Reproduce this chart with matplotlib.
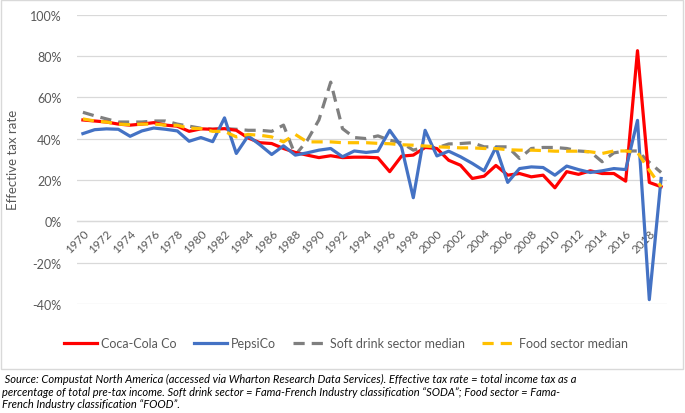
import numpy as np
import matplotlib
matplotlib.use("Agg")
import matplotlib.pyplot as plt
from matplotlib.patches import Rectangle
from matplotlib.ticker import FuncFormatter

plt.rcParams['font.family'] = ['Lato', 'DejaVu Sans']

years = list(range(1970, 2020))

coca_cola = [49, 48.5, 48, 47, 46.5, 47, 47.7, 46.5, 46, 43.5,
             44.7, 44.5, 44.8, 44, 40.3, 38, 37.6, 35.2, 33.3, 32,
             30.8, 31.7, 30.8, 31, 31, 30.7, 24, 31.5, 32, 35.7,
             35.2, 29.5, 27.1, 20.7, 21.8, 27, 22.3, 23.1, 21.5, 22.3,
             16.2, 24, 22.7, 24.4, 23.1, 23.1, 19.4, 82.5, 18.8, 16.7]

pepsico = [42.4, 44.3, 44.7, 44.5, 41.1, 43.7, 45.1, 44.5, 43.7, 38.7,
           40.5, 38.5, 50, 32.8, 41.3, 37, 32.3, 36.5, 32, 33.1,
           34.4, 35.2, 31.2, 34, 33.3, 33.9, 44, 36, 11.4, 44,
           31.6, 33.9, 31.2, 28, 24.4, 35.8, 18.8, 25.5, 26.3, 26,
           22.3, 26.7, 25, 23.6, 24.4, 25.5, 25, 48.8, -37.9, 20.7]

soft_drink_median = [52.7, 51, 49.5, 48, 48, 48, 48.5, 48.5, 47, 46,
                     45, 44.5, 44.8, 44.5, 44, 44, 43.5, 46.5, 32, 39,
                     49, 67.3, 44.8, 40.5, 40, 41.3, 39.2, 38, 34.4, 36,
                     35.5, 37.4, 37.6, 38, 36, 36, 36, 30.4, 35.2, 35.7,
                     35.7, 35.2, 34, 33.6, 28.8, 33.1, 34, 34, 28.5, 23.6]

food_median = [49.5, 48.5, 48, 47, 46.7, 47, 47, 46.5, 46.4, 45,
               44.8, 43.5, 43.5, 40.8, 42, 41.6, 40.8, 38.4, 42, 38.4,
               38.4, 38.4, 38, 38, 38, 37.7, 37.5, 37, 36.8, 36.4,
               36, 35.8, 35.5, 35.5, 35.2, 35.2, 34.6, 34.4, 34.4, 34.2,
               33.9, 33.9, 33.9, 33.6, 32.8, 34, 34, 33.3, 24.7, 16.7]

year_ticks = list(range(1970, 2019, 2))
y_ticks = [-40, -20, 0, 20, 40, 60, 80, 100]

caption = (" Source: Compustat North America (accessed via Wharton Research Data Services). Effective tax rate = total income tax as a\n"
           "percentage of total pre-tax income. Soft drink sector = Fama-French Industry classification \u201cSODA\u201d; Food sector = Fama-\n"
           "French Industry classification \u201cFOOD\u201d.")

fig = plt.figure(figsize=(6.85, 4.14), dpi=100)
ax = fig.add_axes([77/685, 1-305/414, 590/685, (305-15.5)/414])

lw = 2.3
ax.plot(years, coca_cola, color='#FF0000', lw=lw, label='Coca-Cola Co', zorder=3)
ax.plot(years, pepsico, color='#4472C4', lw=lw, label='PepsiCo', zorder=4)
ax.plot(years, soft_drink_median, color='#7F7F7F', lw=lw, ls=(0, (3.5, 2.2)),
        label='Soft drink sector median', zorder=2)
ax.plot(years, food_median, color='#FFC000', lw=lw, ls=(0, (3.5, 2.2)),
        label='Food sector median', zorder=5)

ax.set_xlim(1969.5, 2019.5)
ax.set_ylim(-40, 100)
ax.set_yticks(y_ticks)
ax.yaxis.set_major_formatter(FuncFormatter(lambda v, p: '%d%%' % v))
ax.grid(axis='y', color='#D9D9D9', lw=0.9)
ax.set_axisbelow(True)
for s in ['top', 'right', 'left']:
    ax.spines[s].set_visible(False)
ax.spines['bottom'].set_position(('data', 0))
ax.spines['bottom'].set_color('#D9D9D9')
ax.spines['bottom'].set_linewidth(0.9)

ax.set_xticks(year_ticks)
ax.set_xticklabels([str(y) for y in year_ticks], rotation=45, ha='right',
                   rotation_mode='anchor')
ax.tick_params(axis='x', length=0, pad=4, labelsize=8.5, labelcolor='#595959')
ax.tick_params(axis='y', length=0, pad=11, labelsize=9, labelcolor='#595959')
ax.set_ylabel('Effective tax rate', fontsize=9.5, color='#595959', labelpad=8)

fig.legend(loc='center', bbox_to_anchor=(0.505, 1-344/414), ncol=4, frameon=False,
           fontsize=9, labelcolor='#595959', handlelength=2.7, columnspacing=1.4,
           handletextpad=0.25)

fig.patches.append(Rectangle((1/685, 1-370/414), 682/685, 369/414,
                             transform=fig.transFigure, fill=False,
                             ec='#D9D9D9', lw=1))

fig.text(2/685, 1-374/414, caption, ha='left', va='top', fontsize=8.0,
         style='italic', color='black', linespacing=1.18)

fig.savefig('out.png', dpi=100)
